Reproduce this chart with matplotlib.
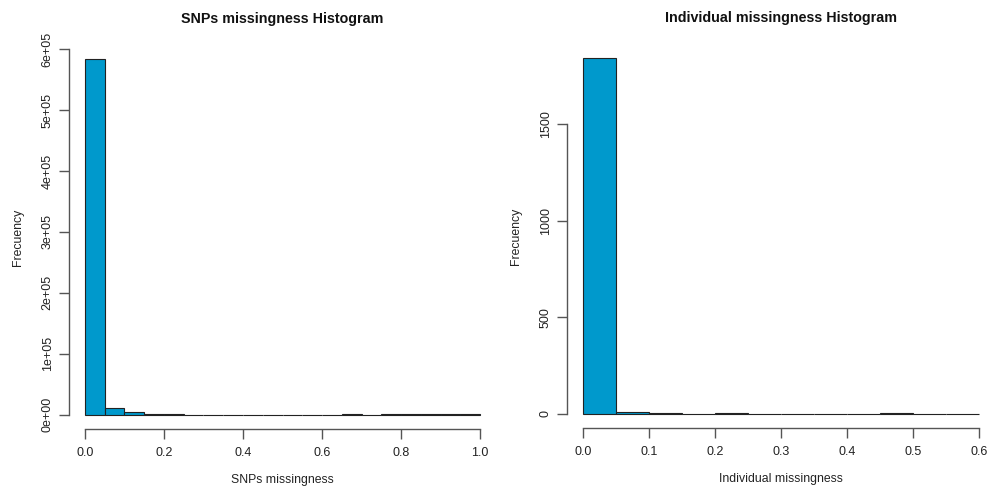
import numpy as np
import matplotlib
matplotlib.use("Agg")
import matplotlib.pyplot as plt

plt.rcParams['font.family'] = ['Liberation Sans', 'DejaVu Sans']

# bin edges (width 0.05) and counts
snp_edges = np.round(np.arange(0, 1.0001, 0.05), 2)
snp_counts = [583500, 11500, 3800, 1300, 700, 400, 300, 250, 200, 200,
              150, 150, 150, 1200, 80, 500, 500, 500, 600, 1500]
snp_xticks = [0.0, 0.2, 0.4, 0.6, 0.8, 1.0]
snp_yticks = [0, 100000, 200000, 300000, 400000, 500000, 600000]
snp_ylabels = ['0e+00', '1e+05', '2e+05', '3e+05', '4e+05', '5e+05', '6e+05']

ind_edges = np.round(np.arange(0, 0.6001, 0.05), 2)
ind_counts = [1843, 10, 3, 0, 2, 0, 1, 1, 0, 2, 0, 0]
ind_xticks = [0.0, 0.1, 0.2, 0.3, 0.4, 0.5, 0.6]
ind_yticks = [0, 500, 1000, 1500]
ind_ylabels = ['0', '500', '1000', '1500']

BAR_COLOR = '#0099cc'
AXIS_COLOR = '#555555'
W, H = 991, 492


def r_hist(rect, edges, counts, xticks, yticks, ylabels, title, xlabel):
    l, t, r, b = rect
    ax = fig.add_axes([l / W, 1 - b / H, (r - l) / W, (b - t) / H])
    width = edges[1] - edges[0]
    ax.bar(edges[:-1], counts, width=width, align='edge',
           color=BAR_COLOR, edgecolor='#222222', linewidth=0.8)
    x0, x1 = edges[0], edges[-1]
    ymax = max(counts)
    ax.set_xlim(x0 - 0.04 * (x1 - x0), x1 + 0.04 * (x1 - x0))
    ax.set_ylim(-0.04 * ymax, 1.04 * ymax)
    for s in ['top', 'right']:
        ax.spines[s].set_visible(False)
    ax.spines['left'].set_bounds(yticks[0], yticks[-1])
    ax.spines['bottom'].set_bounds(xticks[0], xticks[-1])
    for s in ['left', 'bottom']:
        ax.spines[s].set_color(AXIS_COLOR)
        ax.spines[s].set_linewidth(1.0)
    ax.set_xticks(xticks)
    ax.set_xticklabels([f'{v:.1f}' for v in xticks])
    ax.set_yticks(yticks)
    ax.set_yticklabels(ylabels, rotation=90, va='center')
    ax.tick_params(axis='x', length=7, width=1.0, color=AXIS_COLOR,
                   labelsize=9, labelcolor='#222222', pad=6)
    ax.tick_params(axis='y', length=7, width=1.0, color=AXIS_COLOR,
                   labelsize=9, labelcolor='#222222', pad=4)
    ax.set_title(title, fontsize=10.3, fontweight='bold', pad=16, color='#111111')
    ax.set_xlabel(xlabel, fontsize=8.8, labelpad=11, color='#222222')
    ax.set_ylabel('Frecuency', fontsize=8.8, labelpad=13, color='#222222')
    return ax


fig = plt.figure(figsize=(W / 100, H / 100), dpi=100)
r_hist((69, 45, 496, 429), snp_edges, snp_counts, snp_xticks, snp_yticks,
       snp_ylabels, 'SNPs missingness Histogram', 'SNPs missingness')
r_hist((567, 44, 995, 428), ind_edges, ind_counts, ind_xticks, ind_yticks,
       ind_ylabels, 'Individual missingness Histogram', 'Individual missingness')

fig.savefig('out.png', dpi=100)
